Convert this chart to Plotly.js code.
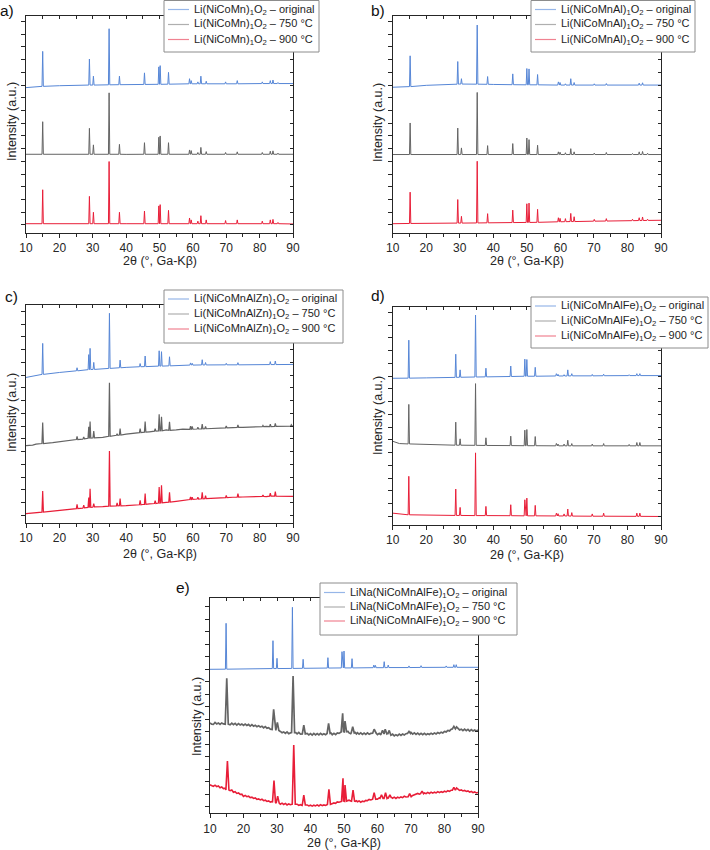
<!DOCTYPE html>
<html>
<head>
<meta charset="utf-8">
<script src="https://cdn.plot.ly/plotly-3.0.1.min.js"></script>
<style>html,body{margin:0;padding:0;background:#fff;}#chart{width:710px;height:850px;}</style>
</head>
<body>
<div id="chart"></div>
<script>
// ---------------- DATA ----------------
// each peak: [2theta, local baseline, apex]; each baseline: [2theta, intensity]
const tickLabelsX = ['10','20','30','40','50','60','70','80','90'];
const seriesNames = ['original', '750 °C', '900 °C'];
const compounds = ['Li(NiCoMn)', 'Li(NiCoMnAl)', 'Li(NiCoMnAlZn)', 'Li(NiCoMnAlFe)', 'LiNa(NiCoMnAlFe)'];

// ---- a) Li(NiCoMn)1O2
const aOrigBase = [[10,10.8],[14,10.88],[20,10.95],[28,11.0],[40,11.05],[60,11.1],[90,11.12]];
const aOrigPeaks = [[15.0,10.9,13.65],[29.0,11.0,13.05],[30.2,11.0,11.7],[34.9,11.02,15.43],[38.0,11.03,11.7],[45.5,11.05,11.96],[49.8,11.06,12.43],[50.2,11.06,12.53],[52.7,11.07,12.0],[59.0,11.1,11.5],[59.5,11.1,11.35],[61.5,11.1,11.25],[62.4,11.1,11.7],[64.0,11.1,11.3],[69.8,11.1,11.25],[73.3,11.1,11.35],[80.8,11.12,11.25],[83.2,11.12,11.35],[84.0,11.12,11.4],[85.5,11.12,11.2]];
const a750Base = [[10,5.56],[40,5.55],[90,5.56]];
const a750Peaks = [[15.0,5.56,8.12],[29.0,5.56,7.6],[30.2,5.56,6.3],[34.9,5.56,10.39],[38.0,5.56,6.34],[45.5,5.56,6.47],[49.8,5.56,6.9],[50.2,5.56,7.0],[52.7,5.56,6.47],[59.0,5.56,5.9],[59.5,5.56,5.85],[61.5,5.56,5.7],[62.4,5.56,6.1],[64.0,5.56,5.77],[69.8,5.56,5.7],[73.3,5.56,5.75],[80.8,5.56,5.7],[83.2,5.56,5.8],[84.0,5.56,5.83],[85.5,5.56,5.65]];
const a900Base = [[10,0.1],[40,0.1],[90,0.08]];
const a900Peaks = [[15.0,0.1,2.77],[29.0,0.1,2.25],[30.2,0.1,1.0],[34.9,0.1,4.99],[38.0,0.1,1.0],[45.5,0.1,1.1],[49.8,0.1,1.5],[50.2,0.1,1.6],[52.7,0.1,1.15],[59.0,0.1,0.55],[59.5,0.1,0.4],[61.5,0.1,0.3],[62.4,0.1,0.73],[64.0,0.1,0.4],[69.8,0.1,0.35],[73.3,0.1,0.4],[80.8,0.1,0.3],[83.2,0.1,0.4],[84.0,0.1,0.44],[85.5,0.1,0.2]];

// ---- b) Li(NiCoMnAl)1O2
const bOrigBase = [[10,10.83],[15,10.88],[20,10.98],[25,11.05],[30,11.08],[40,11.05],[60,11.0],[90,11.0]];
const bOrigPeaks = [[15.2,10.88,13.3],[29.4,11.07,12.85],[30.5,11.08,11.5],[35.2,11.07,15.72],[38.3,11.06,11.67],[45.8,11.03,11.88],[50.0,11.02,12.3],[50.65,11.02,12.27],[53.2,11.02,11.83],[59.4,11.0,11.25],[59.9,11.0,11.2],[61.5,11.0,11.1],[63.1,11.0,11.5],[64.1,11.0,11.2],[70.1,11.0,11.1],[73.7,11.0,11.12],[83.5,11.0,11.15],[84.5,11.0,11.18]];
const b750Base = [[10,5.54],[50,5.54],[90,5.54]];
const b750Peaks = [[15.2,5.54,8.02],[29.4,5.54,7.62],[30.5,5.54,6.06],[35.2,5.54,10.42],[38.3,5.54,6.24],[45.8,5.54,6.4],[50.0,5.54,6.84],[50.65,5.54,6.71],[53.2,5.54,6.27],[59.4,5.54,5.75],[59.9,5.54,5.72],[61.5,5.54,5.68],[63.1,5.54,6.0],[64.1,5.54,5.75],[70.1,5.54,5.65],[73.7,5.54,5.7],[81.5,5.54,5.62],[83.5,5.54,5.75],[84.5,5.54,5.78],[86.0,5.54,5.64]];
const b900Base = [[10,0.1],[30,0.15],[60,0.25],[90,0.37]];
const b900Peaks = [[15.2,0.12,2.58],[29.4,0.15,2.0],[30.5,0.15,0.68],[35.2,0.16,5.01],[38.3,0.17,0.89],[45.8,0.19,1.17],[50.0,0.2,1.67],[50.65,0.2,1.72],[53.2,0.21,1.23],[59.4,0.25,0.57],[59.9,0.25,0.52],[61.5,0.26,0.5],[63.1,0.27,0.91],[64.1,0.27,0.65],[70.1,0.3,0.44],[73.7,0.31,0.5],[81.5,0.34,0.45],[83.5,0.35,0.57],[84.5,0.35,0.63],[86.0,0.36,0.45]];

// ---- c) Li(NiCoMnAlZn)1O2
const cOrigBase = [[10,10.81],[15,11.05],[20,11.2],[25,11.33],[30,11.44],[35,11.52],[40,11.6],[50,11.7],[60,11.78],[70,11.8],[90,11.83]];
const cOrigPeaks = [[15.0,11.05,13.48],[25.3,11.33,11.57],[28.8,11.42,12.6],[29.2,11.43,13.09],[30.3,11.44,11.99],[35.0,11.52,15.84],[38.2,11.57,12.17],[44.2,11.65,11.9],[45.7,11.66,12.49],[49.9,11.7,12.9],[50.6,11.7,12.83],[53.0,11.72,12.43],[59.3,11.78,11.95],[59.8,11.78,11.92],[62.8,11.79,12.2],[63.8,11.79,11.98],[70.0,11.8,11.92],[73.5,11.8,11.97],[83.2,11.82,12.05],[84.7,11.82,12.1]];
const c750Base = [[10,5.47],[12,5.5],[13,5.58],[15,5.63],[18,5.7],[20,5.78],[22,5.82],[25,5.93],[27,5.98],[30,6.07],[33,6.12],[35,6.2],[40,6.36],[42,6.4],[45,6.5],[47,6.55],[50,6.62],[52,6.7],[55,6.7],[57,6.76],[60,6.75],[65,6.8],[67,6.86],[70,6.86],[72,6.88],[75,6.9],[78,6.95],[80,6.95],[82,6.97],[85,6.98],[87,7.02],[90,7.0]];
const c750Peaks = [[15.0,5.63,7.28],[25.3,5.94,6.2],[27.3,6.0,6.15],[28.8,6.04,6.94],[29.2,6.05,7.36],[30.3,6.08,6.6],[35.0,6.2,10.39],[37.3,6.28,6.4],[38.2,6.3,6.8],[44.2,6.48,6.8],[45.7,6.52,7.36],[48.7,6.6,6.8],[49.9,6.62,7.93],[50.6,6.63,7.72],[53.0,6.67,7.33],[59.3,6.74,7.0],[59.8,6.75,6.98],[61.5,6.77,6.9],[62.8,6.78,7.15],[63.8,6.79,6.98],[70.0,6.86,7.0],[73.5,6.89,7.08],[81.0,6.95,7.05],[83.2,6.96,7.15],[84.7,6.98,7.2],[89.5,7.0,7.1]];
const c900Base = [[10,0.13],[12,0.2],[15,0.25],[18,0.33],[20,0.38],[22,0.44],[25,0.52],[27,0.56],[30,0.65],[33,0.68],[35,0.72],[40,0.76],[42,0.8],[45,0.85],[47,0.9],[50,0.96],[52,1.02],[55,1.1],[57,1.18],[60,1.26],[65,1.33],[67,1.37],[70,1.39],[72,1.42],[75,1.44],[78,1.47],[80,1.49],[82,1.47],[85,1.5],[87,1.52],[90,1.49]];
const c900Peaks = [[15.0,0.25,1.91],[25.3,0.53,0.86],[27.3,0.59,0.8],[28.8,0.62,1.39],[29.2,0.63,2.09],[30.3,0.66,0.92],[35.0,0.72,5.05],[37.3,0.74,0.97],[38.2,0.75,1.31],[44.2,0.83,1.18],[45.7,0.86,1.7],[48.7,0.93,1.15],[49.9,0.96,2.22],[50.6,0.98,2.36],[53.0,1.04,1.8],[59.3,1.24,1.44],[59.8,1.25,1.42],[61.5,1.28,1.42],[62.8,1.3,1.8],[63.8,1.31,1.55],[70.0,1.39,1.55],[73.5,1.43,1.7],[81.0,1.49,1.6],[83.2,1.5,1.75],[84.7,1.5,1.86]];

// ---- d) Li(NiCoMnAlFe)1O2
const dOrigBase = [[10,10.84],[20,10.87],[30,10.92],[50,11.0],[90,11.05]];
const dOrigPeaks = [[14.8,10.85,13.83],[28.8,10.91,12.73],[30.1,10.92,11.5],[34.7,10.94,15.8],[37.8,10.95,11.63],[45.2,10.98,11.8],[49.4,11.0,12.34],[50.0,11.0,12.31],[52.5,11.0,11.7],[58.8,11.02,11.2],[59.3,11.02,11.15],[61.1,11.02,11.12],[62.2,11.02,11.5],[63.4,11.03,11.2],[69.5,11.03,11.14],[72.9,11.04,11.16],[80.5,11.05,11.12],[82.8,11.05,11.2],[83.7,11.05,11.2]];
const d750Base = [[10,5.9],[12,5.72],[15,5.69],[20,5.64],[30,5.59],[50,5.55],[90,5.54]];
const d750Peaks = [[14.8,5.69,8.79],[28.8,5.59,7.4],[30.1,5.59,6.09],[34.7,5.58,10.42],[37.8,5.57,6.17],[45.2,5.56,6.3],[49.4,5.55,6.77],[50.0,5.55,6.82],[52.5,5.55,6.27],[58.8,5.54,5.73],[59.3,5.54,5.68],[61.1,5.54,5.68],[62.2,5.54,5.98],[63.4,5.54,5.72],[69.5,5.54,5.68],[72.9,5.54,5.72],[80.5,5.54,5.65],[82.8,5.54,5.8],[83.7,5.54,5.8]];
const d900Base = [[10,0.26],[12,0.18],[15,0.13],[30,0.08],[90,0.0]];
const d900Peaks = [[14.8,0.13,3.15],[28.8,0.08,2.15],[30.1,0.08,0.71],[34.7,0.07,4.99],[37.8,0.07,0.79],[45.2,0.06,0.92],[49.4,0.05,1.31],[50.0,0.05,1.44],[52.5,0.05,0.87],[58.8,0.04,0.26],[59.3,0.04,0.22],[61.1,0.04,0.2],[62.2,0.04,0.58],[63.4,0.03,0.3],[69.5,0.02,0.2],[72.9,0.02,0.26],[82.8,0.01,0.26],[83.7,0.01,0.26]];

// ---- e) LiNa(NiCoMnAlFe)1O2
const eOrigBase = [[10,10.99],[30,11.05],[50,11.1],[90,11.15]];
const eOrigPeaks = [[14.8,11.0,14.67],[28.8,11.05,13.28],[30.0,11.05,11.87],[34.6,11.06,15.95],[37.8,11.07,11.79],[45.2,11.09,11.92],[49.4,11.1,12.4],[50.0,11.1,12.45],[52.4,11.1,11.84],[58.9,11.12,11.33],[59.4,11.12,11.3],[62.0,11.12,11.6],[63.2,11.13,11.33],[69.4,11.13,11.26],[73.0,11.14,11.28],[80.5,11.15,11.26],[82.8,11.15,11.36],[83.5,11.15,11.36]];
const e750Base = [[10,6.70],[10.5,6.6],[11,6.58],[11.5,6.74],[12,6.62],[12.5,6.7],[13,6.58],[13.5,6.7],[14,6.62],[16,6.55],[16.5,6.68],[17,6.56],[17.5,6.66],[18,6.52],[18.5,6.64],[19,6.54],[19.5,6.62],[20,6.5],[20.5,6.6],[21,6.5],[21.5,6.58],[22,6.45],[22.5,6.56],[23,6.44],[23.5,6.52],[24,6.4],[24.5,6.48],[25,6.38],[25.5,6.44],[26,6.3],[26.5,6.4],[27,6.28],[27.5,6.32],[28,6.2],[31,6.02],[31.5,5.92],[32,5.98],[32.5,5.86],[33,5.98],[33.5,5.84],[34,5.9],[35.6,5.92],[36,5.82],[36.5,5.94],[37,5.8],[39,5.86],[39.5,5.74],[40,5.84],[40.5,5.72],[41,5.86],[41.5,5.74],[42,5.84],[42.5,5.74],[43,5.86],[43.5,5.76],[44,5.84],[44.5,5.76],[46.2,5.88],[46.5,5.76],[47,5.86],[47.5,5.76],[48,5.9],[48.5,5.86],[51.2,6.02],[51.5,5.9],[52,5.84],[53.3,5.94],[53.7,5.82],[54,5.92],[54.5,5.8],[55,5.9],[55.5,5.78],[56,5.88],[56.5,5.78],[57,5.9],[57.5,5.8],[58,5.86],[58.4,5.9],[59.6,5.88],[60,5.76],[60.5,5.86],[61,5.74],[62.8,5.82],[63,5.86],[64,5.72],[64.5,5.8],[65,5.66],[65.5,5.76],[66,5.68],[66.5,5.8],[67,5.7],[67.5,5.82],[68,5.74],[68.5,5.84],[70,5.94],[70.5,5.8],[71,5.9],[71.5,5.78],[72,5.88],[72.5,5.76],[73,5.86],[73.5,5.76],[74,5.86],[74.5,5.76],[75,5.84],[75.5,5.78],[76,5.88],[76.5,5.8],[77,5.9],[77.5,5.82],[78,5.94],[78.5,5.86],[79,5.96],[79.5,5.9],[80,6.02],[80.5,5.98],[81,6.1],[81.5,6.06],[82,6.2],[84.2,6.24],[84.5,6.14],[85,6.2],[85.5,6.08],[86,6.2],[86.5,6.08],[87,6.18],[87.5,6.04],[88,6.16],[88.5,6.06],[89,6.14],[89.5,6.06],[90,6.14]];
const e750Peaks = [[15.0,6.6,10.27],[29.0,6.18,7.79],[30.1,6.1,6.75],[34.8,5.92,10.45],[38.0,5.82,6.53],[45.4,5.86,6.67],[49.6,5.98,7.47],[50.3,6.0,6.85],[52.6,5.9,6.4],[59.0,5.87,6.2],[61.5,5.82,6.1],[62.3,5.82,6.2],[63.5,5.8,6.1],[69.4,5.86,6.02],[82.8,6.22,6.42],[83.6,6.22,6.38]];
const e900Base = [[10,1.75],[10.5,1.66],[11,1.62],[11.5,1.72],[12,1.6],[12.5,1.66],[13,1.52],[13.5,1.58],[14,1.45],[14.5,1.48],[16,1.28],[16.5,1.34],[17,1.15],[17.5,1.2],[18,1.06],[18.5,1.1],[19,0.98],[19.5,1.0],[20,0.82],[20.5,0.9],[21,0.8],[21.5,0.84],[22,0.72],[22.5,0.76],[23,0.66],[23.5,0.7],[24,0.58],[24.5,0.62],[25,0.54],[25.5,0.6],[26,0.48],[26.5,0.52],[27,0.42],[27.5,0.46],[28,0.36],[28.5,0.42],[31,0.2],[31.5,0.28],[32,0.18],[32.5,0.26],[33,0.14],[33.5,0.22],[34,0.16],[36,0.2],[36.5,0.1],[37,0.16],[37.5,0.1],[39,0.14],[39.5,0.06],[40,0.12],[40.5,0.04],[41,0.12],[41.5,0.06],[42,0.14],[42.5,0.06],[43,0.16],[43.5,0.08],[44,0.14],[44.5,0.1],[46.3,0.22],[46.5,0.2],[47,0.3],[47.5,0.26],[48,0.38],[48.5,0.36],[51.2,0.48],[51.5,0.52],[52,0.46],[53.4,0.42],[53.7,0.48],[54,0.4],[54.5,0.46],[55,0.36],[55.5,0.44],[56,0.4],[56.5,0.5],[57,0.48],[57.5,0.58],[58,0.54],[58.4,0.6],[59.6,0.62],[60,0.6],[60.5,0.7],[61,0.64],[62.0,0.7],[62.8,0.66],[63.1,0.72],[64.2,0.74],[64.5,0.68],[65,0.76],[65.5,0.66],[66,0.76],[66.5,0.7],[67,0.78],[67.5,0.72],[68,0.84],[68.5,0.78],[70,0.82],[70.5,0.9],[71,0.94],[71.5,1.02],[72,1.06],[72.5,1.0],[74,1.1],[74.5,1.04],[75,1.14],[75.5,1.06],[76,1.16],[76.5,1.08],[77,1.16],[77.5,1.1],[78,1.2],[78.5,1.12],[79,1.2],[79.5,1.14],[80,1.24],[80.5,1.18],[81,1.28],[81.5,1.22],[82,1.32],[84.2,1.36],[84.5,1.3],[85,1.34],[85.5,1.26],[86,1.3],[86.5,1.22],[87,1.26],[87.5,1.16],[88,1.22],[88.5,1.12],[89,1.18],[89.5,1.1],[90,1.14]];
const e900Peaks = [[15.2,1.33,3.65],[29.1,0.34,2.08],[30.2,0.28,0.85],[35.0,0.2,4.93],[38.0,0.14,0.93],[45.5,0.18,1.39],[49.7,0.42,2.27],[50.3,0.45,1.73],[52.7,0.44,1.33],[59.0,0.6,1.12],[61.2,0.66,0.95],[62.4,0.66,1.12],[63.7,0.7,0.95],[69.6,0.8,1.05],[73.3,1.04,1.25],[82.8,1.32,1.55],[83.6,1.34,1.5]];

// ---------------- BUILD ----------------
const COLORS = ['rgb(86,134,214)', 'rgb(100,100,100)', 'rgb(232,30,56)'];
const LEGCOLORS = ['rgb(150,182,232)', 'rgb(175,175,175)', 'rgb(240,130,145)'];
const AXC = '#262626';
const FONT = 'Liberation Sans, Arial, Helvetica, sans-serif';

function buildLine(base, peaks, w) {
  const pts = [];
  base.forEach(([x, y]) => {
    if (!peaks.some(p => Math.abs(p[0] - x) < w + 0.05)) pts.push([x, y]);
  });
  peaks.forEach(([x, f, t]) => { pts.push([x - w, f], [x, t], [x + w, f]); });
  pts.sort((a, b) => a[0] - b[0]);
  return {x: pts.map(p => p[0]), y: pts.map(p => p[1])};
}

// panel geometry in pixels
const panels = [
  {lab:'a)', sets:[[aOrigBase,aOrigPeaks],[a750Base,a750Peaks],[a900Base,a900Peaks]], w:[0.2,0.2,0.2], lw:[1,1,1],
   box:[26,293,15.5,233], yr:[-0.63,16.47], legBox:[164,319,0.5,52], legRows:[9.5,24.5,39.5],
   labPos:[7,11], xt:[160,261], yt:[12,122]},
  {lab:'b)', sets:[[bOrigBase,bOrigPeaks],[b750Base,b750Peaks],[b900Base,b900Peaks]], w:[0.2,0.2,0.2], lw:[1,1,1],
   box:[392.7,661,15.5,233], yr:[-0.63,16.47], legBox:[531,695,0.5,52], legRows:[9.5,24.5,39.5],
   labPos:[378,11], xt:[527,261], yt:[378,122]},
  {lab:'c)', sets:[[cOrigBase,cOrigPeaks],[c750Base,c750Peaks],[c900Base,c900Peaks]], w:[0.2,0.22,0.22], lw:[1,1.2,1.2],
   box:[26,293,305,523], yr:[-0.6,16.49], legBox:[164,343,290,343], legRows:[299,314,329],
   labPos:[12,297], xt:[160,554], yt:[12,413]},
  {lab:'d)', sets:[[dOrigBase,dOrigPeaks],[d750Base,d750Peaks],[d900Base,d900Peaks]], w:[0.2,0.2,0.2], lw:[1,1,1],
   box:[392.7,661,306.5,524.5], yr:[-0.63,16.47], legBox:[531,708,297,348], legRows:[306,321,336],
   labPos:[378,296], xt:[527,555], yt:[378,415]},
  {lab:'e)', sets:[[eOrigBase,eOrigPeaks],[e750Base,e750Peaks],[e900Base,e900Peaks]], w:[0.2,0.45,0.45], lw:[1,1.7,1.6],
   box:[210,478,598.3,813.3], yr:[-0.53,16.67], legBox:[320,517,583,635], legRows:[592.5,607,621],
   labPos:[183,587], xt:[344,843], yt:[197,717]}
];

const W = 710, H = 850;
const px = v => v / W, py = v => 1 - v / H;
const traces = [];
const layout = {
  width: W, height: H, margin: {l:0, r:0, t:0, b:0},
  paper_bgcolor: '#fff', plot_bgcolor: 'rgba(0,0,0,0)',
  font: {family: FONT, color: AXC},
  showlegend: false, annotations: [], shapes: [], hovermode: false
};

panels.forEach((p, i) => {
  const n = i + 1;
  const xb = 2*n - 1, xt = 2*n;
  const xid = k => k === 1 ? 'x' : 'x' + k;
  const yid = k => k === 1 ? 'y' : 'y' + k;
  const xkey = k => k === 1 ? 'xaxis' : 'xaxis' + k;
  const ykey = k => k === 1 ? 'yaxis' : 'yaxis' + k;
  const [bx0, bx1, by0, by1] = p.box;
  const xdom = [px(bx0), px(bx1)], ydom = [py(by1), py(by0)];

  p.sets.forEach(([base, peaks], s) => {
    const d = buildLine(base, peaks, p.w[s]);
    traces.push({
      type: 'scatter', mode: 'lines', x: d.x, y: d.y,
      xaxis: xid(xb), yaxis: yid(xb),
      name: compounds[i] + '<sub>1</sub>O<sub>2</sub> – ' + seriesNames[s],
      line: {color: COLORS[s], width: p.lw[s]}, hoverinfo: 'skip'
    });
  });

  const common = {showgrid:false, zeroline:false, showline:true, linecolor:AXC, linewidth:1, tickcolor:AXC, tickwidth:1, fixedrange:true};
  layout[xkey(xb)] = Object.assign({}, common, {
    domain: xdom, range: [10, 90], anchor: yid(xb), side: 'bottom',
    tickmode: 'array', tickvals: tickLabelsX.map(Number), ticktext: tickLabelsX,
    ticks: 'outside', ticklen: 4, tickfont: {size: 12, color: AXC, family: FONT},
    minor: {tickmode: 'array', tickvals: [15,25,35,45,55,65,75,85], ticks: 'outside', ticklen: 3, tickcolor: AXC, showgrid: false}
  });
  layout[xkey(xt)] = Object.assign({}, common, {
    overlaying: xid(xb), anchor: yid(xb), side: 'top', range: [10, 90],
    ticks: 'inside', ticklen: 3, dtick: 5, tick0: 10, showticklabels: false
  });
  layout[ykey(xb)] = Object.assign({}, common, {
    domain: ydom, range: p.yr, anchor: xid(xb), side: 'left',
    ticks: 'outside', ticklen: 4, dtick: 1, tick0: 0, showticklabels: false
  });
  layout[ykey(xt)] = Object.assign({}, common, {
    overlaying: yid(xb), anchor: xid(xb), side: 'right', range: p.yr,
    ticks: 'inside', ticklen: 3, dtick: 1, tick0: 0, showticklabels: false
  });
  traces.push({type:'scatter', mode:'markers', x:[null], y:[null], xaxis: xid(xt), yaxis: yid(xb), showlegend:false, hoverinfo:'skip', marker:{opacity:0}});
  traces.push({type:'scatter', mode:'markers', x:[null], y:[null], xaxis: xid(xb), yaxis: yid(xt), showlegend:false, hoverinfo:'skip', marker:{opacity:0}});

  // legend box (drawn as shapes + text)
  const [lx0, lx1, ly0, ly1] = p.legBox;
  layout.shapes.push({type:'rect', xref:'paper', yref:'paper', x0:px(lx0), x1:px(lx1), y0:py(ly1), y1:py(ly0),
    line:{color:'#8c8c8c', width:1}, fillcolor:'#fff', layer:'above'});
  p.legRows.forEach((ry, s) => {
    layout.shapes.push({type:'line', xref:'paper', yref:'paper', x0:px(lx0+4), x1:px(lx0+25), y0:py(ry), y1:py(ry),
      line:{color: LEGCOLORS[s], width: 1.2}, layer:'above'});
    layout.annotations.push({text: compounds[i] + '<sub>1</sub>O<sub>2</sub> – ' + seriesNames[s],
      x: px(lx0+28), y: py(ry), xref:'paper', yref:'paper', showarrow:false, xanchor:'left', yanchor:'middle',
      font:{size:11, color:'#1e1e1e', family: FONT}});
  });

  layout.annotations.push(
    {text: p.lab, x: px(p.labPos[0]), y: py(p.labPos[1]), xref:'paper', yref:'paper', showarrow:false, xanchor:'center', yanchor:'middle', font:{size:15.5, color:'#111', family: FONT}},
    {text: '2θ (°, Ga-Kβ)', x: px(p.xt[0]), y: py(p.xt[1]), xref:'paper', yref:'paper', showarrow:false, xanchor:'center', yanchor:'middle', font:{size:12.5, color: AXC, family: FONT}},
    {text: 'Intensity (a.u.)', x: px(p.yt[0]), y: py(p.yt[1]), xref:'paper', yref:'paper', showarrow:false, xanchor:'center', yanchor:'middle', textangle:-90, font:{size:12.5, color: AXC, family: FONT}}
  );
});

Plotly.newPlot('chart', traces, layout, {staticPlot: true, displayModeBar: false});
</script>
</body>
</html>
